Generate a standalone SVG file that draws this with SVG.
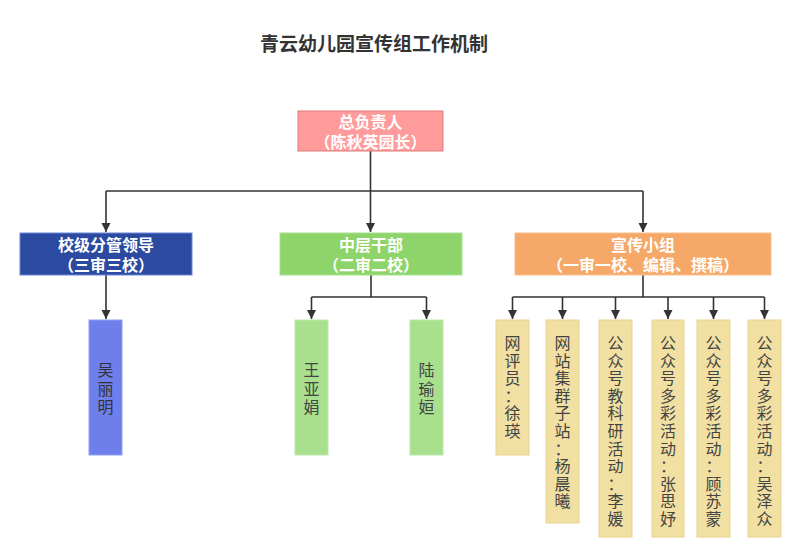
<svg xmlns="http://www.w3.org/2000/svg" width="800" height="557" viewBox="0 0 800 557">
<defs>
<marker id="arr" markerUnits="userSpaceOnUse" markerWidth="10" markerHeight="10" refX="9" refY="4.5" orient="auto">
<path d="M0,0 L9,4.5 L0,9 z" fill="#333"/>
</marker>
<style>
text{font-family:"Noto Sans CJK SC","Noto Sans",sans-serif;}
.title{font-size:19px;font-weight:bold;fill:#333;text-anchor:middle;}
.hd{font-size:16px;font-weight:bold;fill:#fff;text-anchor:middle;}
.lf{font-size:16px;fill:#444;text-anchor:middle;}
.ln{fill:none;stroke:#333;stroke-width:1.6;}
</style>
</defs>
<rect width="800" height="557" fill="#fff"/>
<text class="title" x="374" y="51">青云幼儿园宣传组工作机制</text>

<g id="connectors" class="ln">
<path d="M370.5,151 V191"/>
<path d="M106,191 H643"/>
<path d="M106,191 V232" marker-end="url(#arr)"/>
<path d="M370.5,191 V232" marker-end="url(#arr)"/>
<path d="M643,191 V232" marker-end="url(#arr)"/>
<path d="M106,275 V319" marker-end="url(#arr)"/>
<path d="M371,275 V297 M311.5,297 H426.5"/>
<path d="M311.5,297 V319" marker-end="url(#arr)"/>
<path d="M426.5,297 V319" marker-end="url(#arr)"/>
<path d="M643,275 V297 M512.5,297 H764.5"/>
<path d="M512.5,297 V319" marker-end="url(#arr)"/>
<path d="M562.5,297 V319" marker-end="url(#arr)"/>
<path d="M615.5,297 V319" marker-end="url(#arr)"/>
<path d="M668,297 V319" marker-end="url(#arr)"/>
<path d="M713.5,297 V319" marker-end="url(#arr)"/>
<path d="M764.5,297 V319" marker-end="url(#arr)"/>
</g>

<g id="root">
<rect x="298" y="111" width="145" height="40" fill="#FF9B9B" stroke="#E07A7A" stroke-width="1"/>
<text class="hd" x="370.5" y="128">总负责人</text>
<text class="hd" x="370.5" y="148">（陈秋英园长）</text>
</g>

<g id="school">
<rect x="20" y="233" width="172" height="42" fill="#2C4AA0" stroke="#6A86D8" stroke-width="1"/>
<text class="hd" x="106" y="251">校级分管领导</text>
<text class="hd" x="106" y="271">（三审三校）</text>
</g>

<g id="middle">
<rect x="280" y="233" width="182" height="42" fill="#8DD46A" stroke="#A8E090" stroke-width="1"/>
<text class="hd" x="371" y="251">中层干部</text>
<text class="hd" x="371" y="271">（二审二校）</text>
</g>

<g id="group">
<rect x="515" y="233" width="256" height="42" fill="#F5A868" stroke="#F8C090" stroke-width="1"/>
<text class="hd" x="643" y="251">宣传小组</text>
<text class="hd" x="643" y="271">（一审一校、编辑、撰稿）</text>
</g>

<g id="wu">
<rect x="89" y="320" width="33" height="135" fill="#6E7EEA" stroke="#8EA0F0" stroke-width="1"/>
<text class="lf" style="fill:#333" x="105.5" y="376"><tspan x="105.5">吴</tspan><tspan x="105.5" dy="18.5">丽</tspan><tspan x="105.5" dy="18.5">明</tspan></text>
</g>

<g id="wang">
<rect x="295" y="320" width="33" height="135" fill="#A8E08E" stroke="#BDE8AA" stroke-width="1"/>
<text class="lf" x="311.5" y="376"><tspan x="311.5">王</tspan><tspan x="311.5" dy="18.5">亚</tspan><tspan x="311.5" dy="18.5">娟</tspan></text>
</g>

<g id="lu">
<rect x="410" y="320" width="33" height="135" fill="#A8E08E" stroke="#BDE8AA" stroke-width="1"/>
<text class="lf" x="426.5" y="376"><tspan x="426.5">陆</tspan><tspan x="426.5" dy="18.5">瑜</tspan><tspan x="426.5" dy="18.5">姮</tspan></text>
</g>

<g id="xu">
<rect x="496" y="320" width="33" height="135" fill="#F1E0A2" stroke="#E8D48E" stroke-width="1"/>
<text class="lf" x="512.5" y="349"><tspan x="512.5">网</tspan><tspan x="512.5" dy="17.6">评</tspan><tspan x="512.5" dy="17.6">员</tspan><tspan x="512.5" dy="17.6">：</tspan><tspan x="512.5" dy="17.6">徐</tspan><tspan x="512.5" dy="17.6">瑛</tspan></text>
</g>

<g id="yang">
<rect x="546" y="320" width="33" height="203" fill="#F1E0A2" stroke="#E8D48E" stroke-width="1"/>
<text class="lf" x="562.5" y="349"><tspan x="562.5">网</tspan><tspan x="562.5" dy="17.6">站</tspan><tspan x="562.5" dy="17.6">集</tspan><tspan x="562.5" dy="17.6">群</tspan><tspan x="562.5" dy="17.6">子</tspan><tspan x="562.5" dy="17.6">站</tspan><tspan x="562.5" dy="17.6">：</tspan><tspan x="562.5" dy="17.6">杨</tspan><tspan x="562.5" dy="17.6">晨</tspan><tspan x="562.5" dy="17.6">曦</tspan></text>
</g>

<g id="li">
<rect x="599" y="320" width="33" height="217" fill="#F1E0A2" stroke="#E8D48E" stroke-width="1"/>
<text class="lf" x="615.5" y="349"><tspan x="615.5">公</tspan><tspan x="615.5" dy="17.6">众</tspan><tspan x="615.5" dy="17.6">号</tspan><tspan x="615.5" dy="17.6">教</tspan><tspan x="615.5" dy="17.6">科</tspan><tspan x="615.5" dy="17.6">研</tspan><tspan x="615.5" dy="17.6">活</tspan><tspan x="615.5" dy="17.6">动</tspan><tspan x="615.5" dy="17.6">：</tspan><tspan x="615.5" dy="17.6">李</tspan><tspan x="615.5" dy="17.6">媛</tspan></text>
</g>

<g id="zhang">
<rect x="652" y="320" width="32" height="217" fill="#F1E0A2" stroke="#E8D48E" stroke-width="1"/>
<text class="lf" x="668" y="349"><tspan x="668">公</tspan><tspan x="668" dy="17.6">众</tspan><tspan x="668" dy="17.6">号</tspan><tspan x="668" dy="17.6">多</tspan><tspan x="668" dy="17.6">彩</tspan><tspan x="668" dy="17.6">活</tspan><tspan x="668" dy="17.6">动</tspan><tspan x="668" dy="17.6">：</tspan><tspan x="668" dy="17.6">张</tspan><tspan x="668" dy="17.6">思</tspan><tspan x="668" dy="17.6">妤</tspan></text>
</g>

<g id="gu">
<rect x="697" y="320" width="33" height="217" fill="#F1E0A2" stroke="#E8D48E" stroke-width="1"/>
<text class="lf" x="713.5" y="349"><tspan x="713.5">公</tspan><tspan x="713.5" dy="17.6">众</tspan><tspan x="713.5" dy="17.6">号</tspan><tspan x="713.5" dy="17.6">多</tspan><tspan x="713.5" dy="17.6">彩</tspan><tspan x="713.5" dy="17.6">活</tspan><tspan x="713.5" dy="17.6">动</tspan><tspan x="713.5" dy="17.6">：</tspan><tspan x="713.5" dy="17.6">顾</tspan><tspan x="713.5" dy="17.6">苏</tspan><tspan x="713.5" dy="17.6">蒙</tspan></text>
</g>

<g id="wuze">
<rect x="748" y="320" width="33" height="217" fill="#F1E0A2" stroke="#E8D48E" stroke-width="1"/>
<text class="lf" x="764.5" y="349"><tspan x="764.5">公</tspan><tspan x="764.5" dy="17.6">众</tspan><tspan x="764.5" dy="17.6">号</tspan><tspan x="764.5" dy="17.6">多</tspan><tspan x="764.5" dy="17.6">彩</tspan><tspan x="764.5" dy="17.6">活</tspan><tspan x="764.5" dy="17.6">动</tspan><tspan x="764.5" dy="17.6">：</tspan><tspan x="764.5" dy="17.6">吴</tspan><tspan x="764.5" dy="17.6">泽</tspan><tspan x="764.5" dy="17.6">众</tspan></text>
</g>
</svg>
